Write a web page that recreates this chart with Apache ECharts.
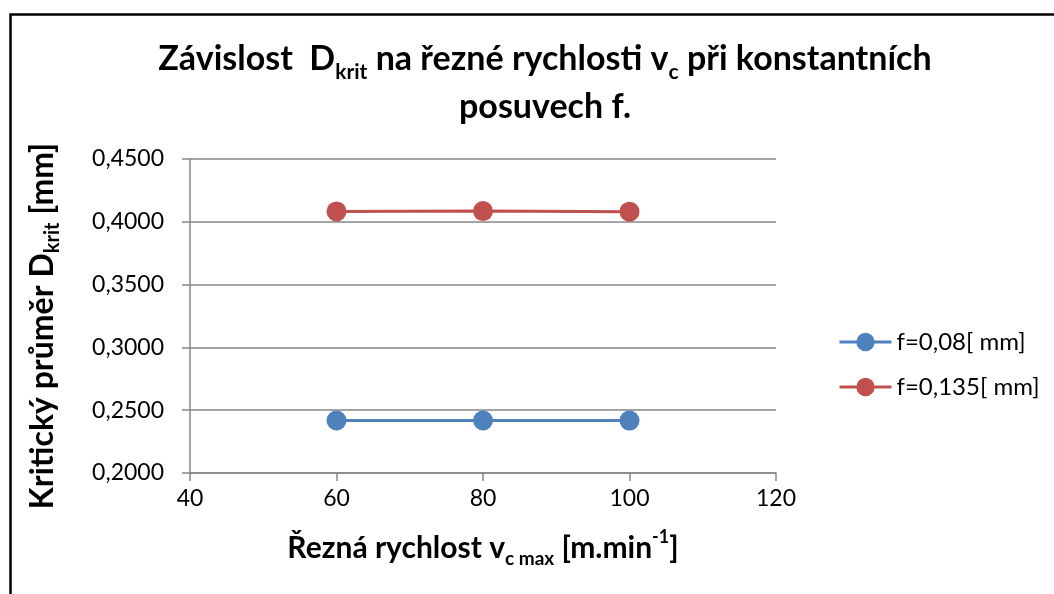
<!DOCTYPE html>
<html>
<head>
<meta charset="utf-8">
<script src="https://cdn.jsdelivr.net/npm/echarts@6/dist/echarts.min.js"></script>
<style>
  html, body { margin: 0; padding: 0; background: #fff; }
  #chart { width: 1054px; height: 594px; }
</style>
</head>
<body>
<div id="chart"></div>
<script>
// Cutting speed v_c [m/min] at which the critical diameter was evaluated
const speeds = [60, 80, 100];
// Critical diameter D_krit [mm] for each constant feed f
const dkritF008 = [0.2418, 0.2418, 0.2417];
const dkritF0135 = [0.4083, 0.4085, 0.4081];
const seriesNames = ['f=0,08[ mm]', 'f=0,135[ mm]'];
const seriesColors = ['#4F81BD', '#C0504D'];

const FONT = 'Lato, "Liberation Sans", sans-serif';
const fmtY = v => v.toFixed(4).replace('.', ',');

const chart = echarts.init(document.getElementById('chart'));

const toPairs = vals => speeds.map((x, i) => [x, vals[i]]);

chart.setOption({
  animation: false,
  backgroundColor: '#fff',
  title: {
    text: 'Závislost  D{sub|krit} na řezné rychlosti v{sub|c} při konstantních\nposuvech f.',
    left: 540,
    top: 30,
    textAlign: 'center',
    textStyle: {
      fontFamily: FONT,
      fontWeight: 'bold',
      fontSize: 34,
      lineHeight: 48,
      color: '#000',
      rich: {
        sub: { fontFamily: FONT, fontWeight: 'bold', fontSize: 21, lineHeight: 32, verticalAlign: 'bottom', color: '#000' }
      }
    }
  },
  graphic: [{
    type: 'polyline',
    shape: { points: [[10.5, 594], [10.5, 14.5], [1054, 14.5]] },
    style: { stroke: '#000', lineWidth: 2.5, fill: null },
    silent: true
  }],
  legend: {
    orient: 'vertical',
    left: 833,
    top: 325,
    itemWidth: 52,
    itemHeight: 23,
    itemGap: 21,
    data: seriesNames,
    lineStyle: { width: 3 },
    textStyle: { fontFamily: FONT, fontSize: 24, color: '#000' }
  },
  grid: { left: 190, top: 159, right: 278, bottom: 121, containLabel: false },
  xAxis: {
    type: 'value',
    min: 40, max: 120, interval: 20,
    name: 'Řezná rychlost v{sub|c max} [m.min{sup|-1}]',
    nameLocation: 'middle',
    nameGap: 55,
    nameTextStyle: {
      fontFamily: FONT, fontWeight: 'bold', fontSize: 30, color: '#000', lineHeight: 40,
      rich: {
        sub: { fontFamily: FONT, fontWeight: 'bold', fontSize: 19, lineHeight: 30, verticalAlign: 'bottom', color: '#000' },
        sup: { fontFamily: FONT, fontWeight: 'bold', fontSize: 18, lineHeight: 30, verticalAlign: 'top', color: '#000' }
      }
    },
    axisLine: { show: true, lineStyle: { color: '#868686', width: 1.5 } },
    axisTick: { show: true, length: 8, lineStyle: { color: '#868686', width: 1.5 } },
    axisLabel: { fontFamily: FONT, fontSize: 23, color: '#000', margin: 14 },
    splitLine: { show: false }
  },
  yAxis: {
    type: 'value',
    min: 0.2, max: 0.45, interval: 0.05,
    name: 'Kritický průměr D{sub|krit} [mm]',
    nameLocation: 'middle',
    nameGap: 127,
    nameRotate: 90,
    nameTextStyle: {
      fontFamily: FONT, fontWeight: 'bold', fontSize: 32, color: '#000', lineHeight: 40,
      padding: [0, 20, 0, 0],
      rich: {
        sub: { fontFamily: FONT, fontWeight: 'bold', fontSize: 20, lineHeight: 30, verticalAlign: 'bottom', color: '#000' }
      }
    },
    axisLine: { show: true, lineStyle: { color: '#868686', width: 1.5 } },
    axisTick: { show: true, length: 8, lineStyle: { color: '#868686', width: 1.5 } },
    axisLabel: { fontFamily: FONT, fontSize: 23, color: '#000', margin: 26, formatter: fmtY },
    splitLine: { show: true, lineStyle: { color: '#868686', width: 1.5 } }
  },
  series: [
    {
      name: seriesNames[0],
      type: 'line',
      data: toPairs(dkritF008),
      symbol: 'circle',
      symbolSize: 20,
      itemStyle: { color: seriesColors[0] },
      lineStyle: { color: seriesColors[0], width: 3 }
    },
    {
      name: seriesNames[1],
      type: 'line',
      data: toPairs(dkritF0135),
      symbol: 'circle',
      symbolSize: 20,
      itemStyle: { color: seriesColors[1] },
      lineStyle: { color: seriesColors[1], width: 3 }
    }
  ]
});
</script>
</body>
</html>
